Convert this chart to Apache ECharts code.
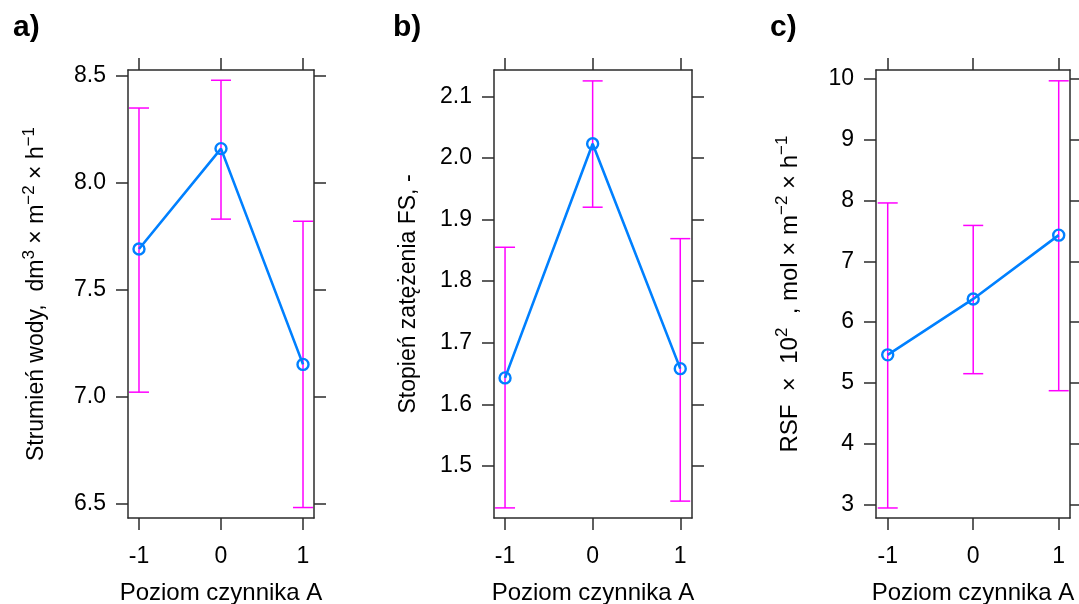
<!DOCTYPE html>
<html>
<head>
<meta charset="utf-8">
<script src="https://cdn.jsdelivr.net/npm/echarts@6/dist/echarts.min.js"></script>
<style>
html,body{margin:0;padding:0;background:#fff;}
#chart{width:1079px;height:604px;}
</style>
</head>
<body>
<div id="chart"></div>
<script>
// ---- data ----
const levels = [-1, 0, 1];
const levelTicks = [-1, 0, 1];

const fluxMean  = [7.69, 8.16, 7.15];
const fluxLower = [7.02, 7.83, 6.48];
const fluxUpper = [8.35, 8.48, 7.82];
const fluxTicks = [6.5, 7.0, 7.5, 8.0, 8.5];

const fsMean  = [1.643, 2.023, 1.658];
const fsLower = [1.432, 1.920, 1.443];
const fsUpper = [1.855, 2.125, 1.869];
const fsTicks = [1.5, 1.6, 1.7, 1.8, 1.9, 2.0, 2.1];

const rsfMean  = [5.46, 6.38, 7.43];
const rsfLower = [2.94, 5.15, 4.87];
const rsfUpper = [7.96, 7.59, 9.97];
const rsfTicks = [3, 4, 5, 6, 7, 8, 9, 10];

const panelLetters = ['a)', 'b)', 'c)'];
const xTitle = 'Poziom czynnika A';

// ---- styling / layout ----
const FONT = 'Liberation Sans, Arial, sans-serif';
const BOX = '#2b2b2b';
const BLUE = '#0080ff';
const MAGENTA = '#ff00ff';

const panels = [
  { left: 128, width: 186, xr: [-1.134, 1.134], yr: [6.431, 8.528], ticks: fluxTicks, dec: 1,
    mean: fluxMean, lo: fluxLower, hi: fluxUpper, gap: 80, fs: 23,
    name: '{t|Strumień wody,  dm}{s|3}{t| × m}{s|−2}{t| × h}{s|−1}', letterX: 8 },
  { left: 494, width: 198, xr: [-1.126, 1.134], yr: [1.4156, 2.1427], ticks: fsTicks, dec: 1,
    mean: fsMean, lo: fsLower, hi: fsUpper, gap: 74, fs: 23,
    name: '{t|Stopień zatężenia FS, -}', letterX: 388 },
  { left: 876, width: 194, xr: [-1.137, 1.132], yr: [2.775, 10.148], ticks: rsfTicks, dec: 0,
    mean: rsfMean, lo: rsfLower, hi: rsfUpper, gap: 74, fs: 24,
    name: '{t|RSF  ×  10}{s|2}{t|  , mol × m}{s|−2}{t| × h}{s|−1}', letterX: 765 }
];

function richName(fs) {
  return {
    t: { fontSize: fs, fontFamily: FONT, color: '#000', lineHeight: fs + 4, verticalAlign: 'bottom' },
    s: { fontSize: 17, fontFamily: FONT, color: '#000', lineHeight: 17, verticalAlign: 'top' }
  };
}

const grids = [], xAxes = [], yAxes = [], series = [], titles = [];

panels.forEach((p, i) => {
  grids.push({ left: p.left, width: p.width, top: 70, bottom: 86, containLabel: false, outerBoundsMode: 'none' });
  const tickStyle = { show: true, inside: false, length: 12, lineStyle: { color: BOX, width: 1.5 } };
  const lineStyle = { show: true, onZero: false, lineStyle: { color: BOX, width: 1.5 } };
  // bottom x axis
  xAxes.push({
    type: 'value', gridIndex: i, position: 'bottom', min: p.xr[0], max: p.xr[1],
    axisLine: lineStyle,
    axisTick: Object.assign({}, tickStyle, { customValues: levelTicks }),
    axisLabel: { customValues: levelTicks, fontSize: 23, fontFamily: FONT, color: '#000', margin: 27,
                 formatter: v => String(Math.round(v)) },
    splitLine: { show: false },
    name: xTitle, nameLocation: 'middle', nameGap: 63,
    nameTextStyle: { fontSize: 24, fontFamily: FONT, color: '#000' }
  });
  // top x axis (ticks only)
  xAxes.push({
    type: 'value', gridIndex: i, position: 'top', min: p.xr[0], max: p.xr[1],
    axisLine: lineStyle,
    axisTick: Object.assign({}, tickStyle, { customValues: levelTicks }),
    axisLabel: { show: false, customValues: levelTicks },
    splitLine: { show: false }
  });
  // left y axis
  yAxes.push({
    type: 'value', gridIndex: i, position: 'left', min: p.yr[0], max: p.yr[1],
    axisLine: lineStyle,
    axisTick: Object.assign({}, tickStyle, { customValues: p.ticks }),
    axisLabel: { customValues: p.ticks, fontSize: 23, fontFamily: FONT, color: '#000', margin: 22,
                 formatter: v => v.toFixed(p.dec) },
    splitLine: { show: false },
    name: p.name, nameLocation: 'middle', nameRotate: 90, nameGap: p.gap,
    nameTextStyle: { fontSize: p.fs, fontFamily: FONT, color: '#000', rich: richName(p.fs) }
  });
  // right y axis (ticks only)
  yAxes.push({
    type: 'value', gridIndex: i, position: 'right', min: p.yr[0], max: p.yr[1],
    axisLine: lineStyle,
    axisTick: Object.assign({}, tickStyle, { customValues: p.ticks }),
    axisLabel: { show: false, customValues: p.ticks },
    splitLine: { show: false }
  });

  const errData = levels.map((x, k) => [x, p.lo[k], p.hi[k]]);
  series.push({
    type: 'custom', xAxisIndex: 2 * i, yAxisIndex: 2 * i, data: errData,
    encode: { x: 0, y: [1, 2] }, clip: false, z: 2,
    renderItem: function (params, api) {
      const x = api.value(0);
      const a = api.coord([x, api.value(1)]);
      const b = api.coord([x, api.value(2)]);
      const hw = 10;
      const st = { stroke: MAGENTA, lineWidth: 1.5 };
      return { type: 'group', children: [
        { type: 'line', shape: { x1: a[0], y1: a[1], x2: b[0], y2: b[1] }, style: st },
        { type: 'line', shape: { x1: a[0] - hw, y1: a[1], x2: a[0] + hw, y2: a[1] }, style: st },
        { type: 'line', shape: { x1: b[0] - hw, y1: b[1], x2: b[0] + hw, y2: b[1] }, style: st }
      ]};
    }
  });
  series.push({
    type: 'line', xAxisIndex: 2 * i, yAxisIndex: 2 * i, z: 3,
    data: levels.map((x, k) => [x, p.mean[k]]),
    lineStyle: { color: BLUE, width: 2.6 },
    symbol: 'circle', symbolSize: 11,
    itemStyle: { color: 'rgba(0,0,0,0)', borderColor: BLUE, borderWidth: 2.4 },
    emphasis: { disabled: true }, animation: false
  });

  titles.push({ text: panelLetters[i], left: p.letterX, top: 8,
    textStyle: { fontSize: 30, fontWeight: 'bold', fontFamily: FONT, color: '#000' } });
});

const chart = echarts.init(document.getElementById('chart'), null, { renderer: 'canvas' });
chart.setOption({
  animation: false,
  backgroundColor: '#ffffff',
  title: titles,
  grid: grids,
  xAxis: xAxes,
  yAxis: yAxes,
  series: series
});
</script>
</body>
</html>
